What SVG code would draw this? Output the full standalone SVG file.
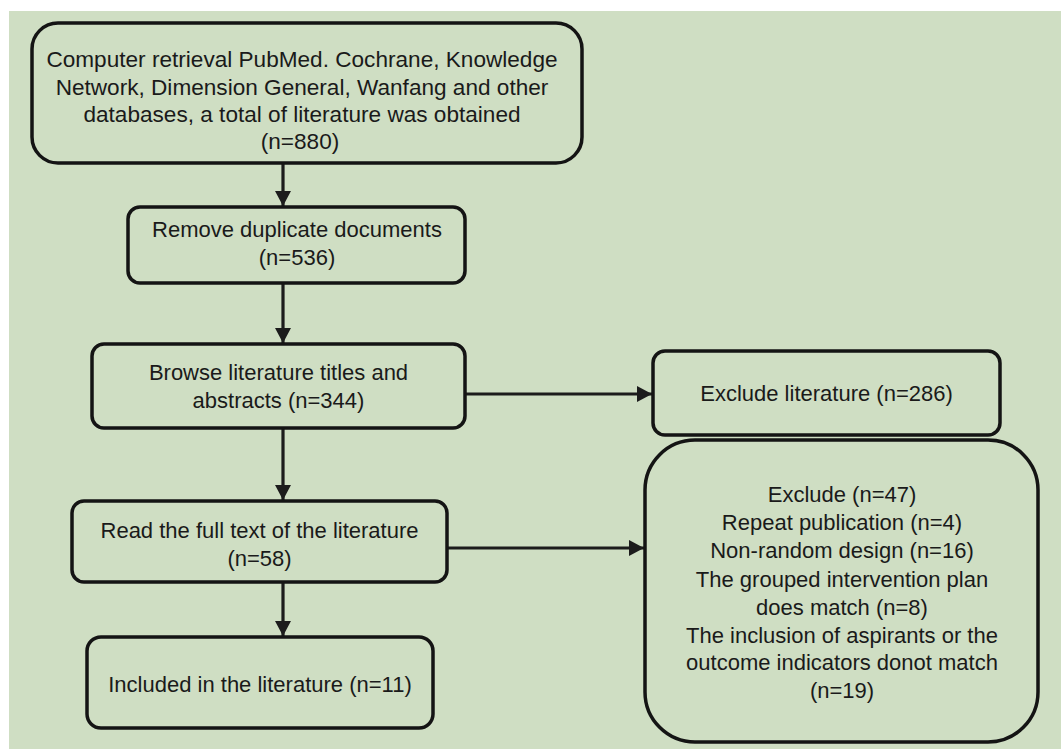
<svg xmlns="http://www.w3.org/2000/svg" width="1061" height="749" viewBox="0 0 1061 749">
  <defs>
    <style>
      .box { fill: #cfdec3; stroke: #141414; stroke-width: 3.5; }
      .lbl { font-family: "Liberation Sans", Arial, sans-serif; font-size: 22px; fill: #1a1a1a; text-anchor: middle; }
      .big { font-size: 22.6px; }
      .edge { stroke: #1c1c1c; stroke-width: 3.2; fill: none; }
    </style>
    <marker id="arrow" viewBox="0 0 15 16" refX="15" refY="8" markerWidth="15" markerHeight="16" markerUnits="userSpaceOnUse" orient="auto">
      <path d="M0,0 L15,8 L0,16 Z" fill="#1c1c1c"/>
    </marker>
  </defs>
  <rect x="0" y="0" width="1061" height="749" fill="#ffffff"/>
  <rect x="9" y="11" width="1052" height="738" fill="#cfdec3"/>

  <g id="connectors">
    <line class="edge" x1="283" y1="163" x2="283" y2="206" marker-end="url(#arrow)"/>
    <line class="edge" x1="283" y1="283" x2="283" y2="343" marker-end="url(#arrow)"/>
    <line class="edge" x1="283" y1="428" x2="283" y2="500" marker-end="url(#arrow)"/>
    <line class="edge" x1="283" y1="582" x2="283" y2="636" marker-end="url(#arrow)"/>
    <line class="edge" x1="465" y1="394" x2="652" y2="394" marker-end="url(#arrow)"/>
    <line class="edge" x1="447" y1="548" x2="644" y2="548" marker-end="url(#arrow)"/>
  </g>

  <g id="node-retrieval">
    <rect class="box" x="32" y="23" width="550" height="140" rx="26" ry="26"/>
    <text class="lbl big" x="302" y="67">Computer retrieval PubMed. Cochrane, Knowledge</text>
    <text class="lbl big" x="302" y="95">Network, Dimension General, Wanfang and other</text>
    <text class="lbl big" x="302" y="122">databases, a total of literature was obtained</text>
    <text class="lbl big" x="300" y="149">(n=880)</text>
  </g>

  <g id="node-remove">
    <rect class="box" x="128" y="207" width="337" height="76" rx="12" ry="12"/>
    <text class="lbl" x="297" y="237">Remove duplicate documents</text>
    <text class="lbl" x="297" y="265">(n=536)</text>
  </g>

  <g id="node-browse">
    <rect class="box" x="92" y="344" width="373" height="84" rx="12" ry="12"/>
    <text class="lbl" x="278.5" y="380">Browse literature titles and</text>
    <text class="lbl" x="278.5" y="408">abstracts (n=344)</text>
  </g>

  <g id="node-fulltext">
    <rect class="box" x="72" y="501" width="375" height="81" rx="12" ry="12"/>
    <text class="lbl" x="259.5" y="538">Read the full text of the literature</text>
    <text class="lbl" x="259.5" y="566">(n=58)</text>
  </g>

  <g id="node-included">
    <rect class="box" x="87" y="637" width="346" height="91" rx="14" ry="14"/>
    <text class="lbl" x="260" y="692">Included in the literature (n=11)</text>
  </g>

  <g id="node-exclude286">
    <rect class="box" x="653" y="351" width="347" height="84" rx="12" ry="12"/>
    <text class="lbl" x="826.5" y="401">Exclude literature (n=286)</text>
  </g>

  <g id="node-exclude47">
    <rect class="box" x="645" y="440" width="393" height="302" rx="50" ry="50"/>
    <text class="lbl" x="842" y="502">Exclude (n=47)</text>
    <text class="lbl" x="842" y="530">Repeat publication (n=4)</text>
    <text class="lbl" x="842" y="558">Non-random design (n=16)</text>
    <text class="lbl" x="842" y="587">The grouped intervention plan</text>
    <text class="lbl" x="842" y="615">does match (n=8)</text>
    <text class="lbl" x="842" y="643">The inclusion of aspirants or the</text>
    <text class="lbl" x="842" y="670">outcome indicators donot match</text>
    <text class="lbl" x="842" y="698">(n=19)</text>
  </g>
</svg>
